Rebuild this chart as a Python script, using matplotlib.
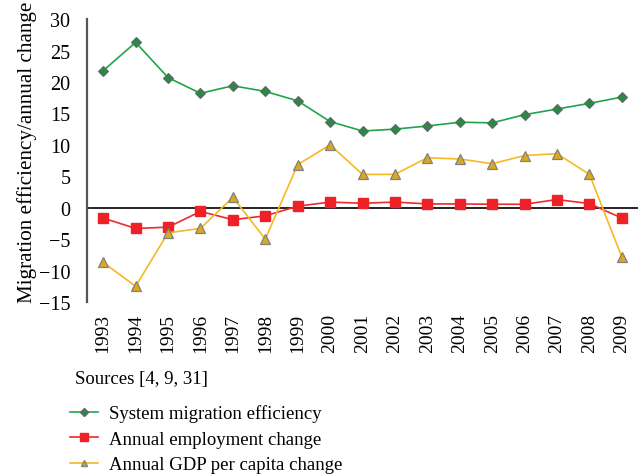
import matplotlib
matplotlib.use('Agg')
import matplotlib.pyplot as plt
from matplotlib.lines import Line2D

years = list(range(1993, 2010))
migration_eff = [21.8, 26.3, 20.7, 18.2, 19.4, 18.5, 17.0, 13.7, 12.2, 12.5,
                 13.0, 13.6, 13.5, 14.8, 15.7, 16.6, 17.6]
employment_chg = [-1.65, -3.3, -3.1, -0.6, -1.9, -1.3, 0.24, 0.9, 0.7, 0.9,
                  0.6, 0.6, 0.55, 0.55, 1.3, 0.65, -1.65]
gdp_chg = [-8.7, -12.5, -4.0, -3.3, 1.65, -5.0, 6.85, 10.0, 5.3, 5.3,
           7.95, 7.75, 7.0, 8.3, 8.6, 5.3, -7.85]
y_ticks = [30, 25, 20, 15, 10, 5, 0, -5, -10, -15]
series_labels = ['System migration efficiency', 'Annual employment change',
                 'Annual GDP per capita change']

plt.rcParams['font.family'] = ['Liberation Serif', 'DejaVu Serif']
plt.rcParams['axes.unicode_minus'] = True

fig = plt.figure(figsize=(6.43, 4.77), dpi=100)
ax = fig.add_axes([0.1353, 0.3648, 0.857, 0.593])

ax.axhline(0, color='black', linewidth=1.2, zorder=1)

ax.plot(years, migration_eff, color='#1ea54c', linewidth=1.2,
        marker='D', markersize=5.5, markerfacecolor='#2a8a45',
        markeredgecolor='#666666', markeredgewidth=0.8, zorder=3)
ax.plot(years, employment_chg, color='#ee2a2a', linewidth=1.2,
        marker='s', markersize=7.5, markerfacecolor='#ee2226',
        markeredgecolor='#ee2226', zorder=3)
ax.plot(years, gdp_chg, color='#f6b824', linewidth=1.2,
        marker='^', markersize=7, markerfacecolor='#dca81c',
        markeredgecolor='#808080', markeredgewidth=0.9, zorder=3)

ax.set_xlim(1992.5, 2009.5)
ax.set_ylim(-15, 30)
ax.set_yticks(y_ticks)
ax.set_yticklabels([str(v).replace('-', '\u2212') for v in y_ticks], fontsize=14.5)
ax.set_xticks(years)
ax.set_xticklabels([str(y) for y in years], rotation=90, fontsize=14)
ax.tick_params(axis='both', length=0)
ax.tick_params(axis='y', pad=12)
ax.tick_params(axis='x', pad=8)

for s in ['top', 'right', 'bottom']:
    ax.spines[s].set_visible(False)
ax.spines['left'].set_color('#555555')
ax.spines['left'].set_linewidth(1.6)

ax.set_ylabel('Migration efficiency/annual change', fontsize=15.2)
ax.yaxis.set_label_coords(-0.091, 0.534)

fig.text(75 / 643, 1 - 380 / 477, 'Sources [4, 9, 31]', fontsize=13.5,
         va='center', ha='left')

handles = [
    Line2D([], [], color='#1ea54c', marker='D', markersize=4,
           markerfacecolor='#2a8a45', markeredgecolor='#666666', linewidth=1.2),
    Line2D([], [], color='#ee2a2a', marker='s', markersize=6,
           markerfacecolor='#ee2226', markeredgecolor='#ee2226', linewidth=1.2),
    Line2D([], [], color='#f6b824', marker='^', markersize=5,
           markerfacecolor='#dca81c', markeredgecolor='#808080', linewidth=1.2),
]
fig.legend(handles, series_labels, loc='upper left',
           bbox_to_anchor=(62 / 643, 1 - 398 / 477), frameon=False,
           fontsize=13.5, handlelength=1.5, handletextpad=0.6,
           labelspacing=0.45, borderaxespad=0)

fig.savefig('out.png', dpi=100)
